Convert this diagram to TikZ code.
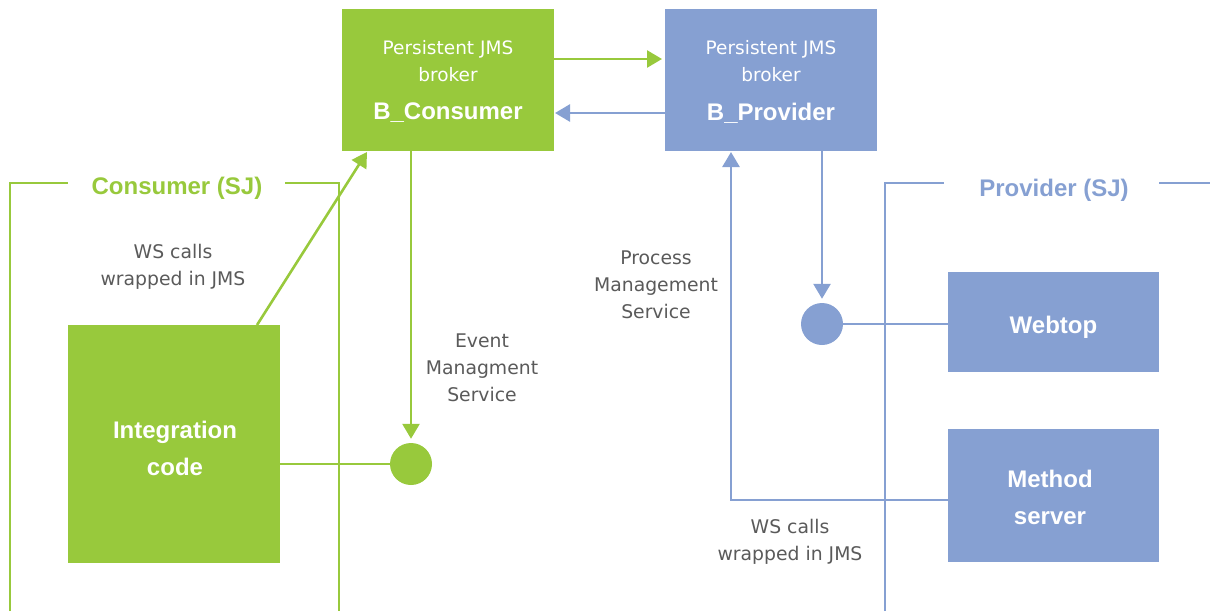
\documentclass[tikz,border=0pt]{standalone}
\usepackage{fontspec}
\setmainfont{Liberation Sans}
\newfontfamily\labelfont{DejaVu Sans}
\usetikzlibrary{arrows.meta}
\definecolor{cgreen}{RGB}{152,201,60}
\definecolor{cblue}{RGB}{134,160,210}
\definecolor{cgray}{RGB}{90,90,90}
\tikzset{
  box/.style={draw=none, inner sep=0pt, text=white, align=center},
  gbox/.style={box, fill=cgreen},
  bbox/.style={box, fill=cblue},
  lbl/.style={text=cgray, align=center, font=\labelfont\fontsize{18.8}{27}\selectfont},
  brokerlbl/.style={text=white, align=center, font=\labelfont\fontsize{18.5}{27}\selectfont},
  bold/.style={font=\bfseries\fontsize{24}{37}\selectfont},
  frametitle/.style={font=\bfseries\fontsize{24}{28}\selectfont},
  garrow/.style={draw=cgreen, line width=2.6pt, -{Triangle[width=17pt,length=15pt]}},
  barrow/.style={draw=cblue, line width=2.6pt, -{Triangle[width=17pt,length=15pt]}},
  gline/.style={draw=cgreen, line width=2.6pt},
  bline/.style={draw=cblue, line width=2.6pt},
  gframe/.style={draw=cgreen, line width=1.6pt},
  bframe/.style={draw=cblue, line width=1.6pt},
  dot/.style={circle, inner sep=0pt, minimum size=42pt},
}
\begin{document}
\begin{tikzpicture}[x=1pt,y=-1pt]
\useasboundingbox (0,0) rectangle (1210,611);

% brokers
\node[gbox, minimum width=212pt, minimum height=142pt] (bc) at (448,80) {};
\node[brokerlbl] (bct) at (448,61) {Persistent JMS\\broker};
\node[text=white, bold] (bcn) at (448,113) {B\_Consumer};
\node[bbox, minimum width=212pt, minimum height=142pt] (bp) at (771,80) {};
\node[brokerlbl] (bpt) at (771,61) {Persistent JMS\\broker};
\node[text=white, bold] (bpn) at (771,113) {B\_Provider};

% broker-to-broker links
\coordinate (bcr1) at (554,59);
\coordinate (bpl1) at (662,59);
\draw[garrow] (bcr1) -- (bpl1);
\coordinate (bpl2) at (665,113);
\coordinate (bcr2) at (555,113);
\draw[barrow] (bpl2) -- (bcr2);

% consumer frame
\node[frametitle, text=cgreen] (ctitle) at (177,188) {Consumer (SJ)};
\coordinate (cf1) at (10,611);
\coordinate (cf2) at (10,183);
\coordinate (cf3) at (68,183);
\coordinate (cf4) at (285,183);
\coordinate (cf5) at (339,183);
\coordinate (cf6) at (339,611);
\draw[gframe] (cf1) -- (cf2) -- (cf3);
\draw[gframe] (cf4) -- (cf5) -- (cf6);

% provider frame
\node[frametitle, text=cblue] (ptitle) at (1054,190) {Provider (SJ)};
\coordinate (pf1) at (885,611);
\coordinate (pf2) at (885,183);
\coordinate (pf3) at (944,183);
\coordinate (pf4) at (1159,183);
\coordinate (pf5) at (1210,183);
\draw[bframe] (pf1) -- (pf2) -- (pf3);
\draw[bframe] (pf4) -- (pf5);

% consumer side
\node[gbox, minimum width=212pt, minimum height=238pt, bold] (ic) at (174,444) {};
\node[text=white, bold, align=center] (ict) at (175,448) {Integration\\code};
\node[dot, fill=cgreen] (ems) at (411,464) {};
\coordinate (ictop) at (257,325);
\coordinate (bcin) at (367,152);
\draw[garrow] (ictop) -- (bcin);
\node[lbl] (wsc) at (173,267) {WS calls\\wrapped in JMS};
\coordinate (bcout) at (411,151);
\draw[garrow, shorten >=4pt] (bcout) -- (ems.north);
\draw[gline] (ic.east |- ems) -- (ems);
\node[lbl] (emsl) at (482,368) {Event\\Managment\\Service};

% provider side
\node[bbox, minimum width=211pt, minimum height=100pt] (wt) at (1053.5,322) {};
\node[text=white, bold] (wtt) at (1053.5,327) {Webtop};
\node[bbox, minimum width=211pt, minimum height=133pt] (ms) at (1053.5,495.5) {};
\node[text=white, bold, align=center] (mst) at (1050,497) {Method\\server};
\node[dot, fill=cblue] (pms) at (822,324) {};
\coordinate (bpout) at (822,151);
\draw[barrow, shorten >=4pt] (bpout) -- (pms.north);
\draw[bline] (pms) -- (wt.west |- pms);
\coordinate (msl) at (948,500);
\coordinate (corner) at (731,500);
\coordinate (bpin) at (731,152);
\draw[barrow] (msl) -- (corner) -- (bpin);
\node[lbl] (pmsl) at (656,285) {Process\\Management\\Service};
\node[lbl] (wsp) at (790,542) {WS calls\\wrapped in JMS};
\end{tikzpicture}
\end{document}
